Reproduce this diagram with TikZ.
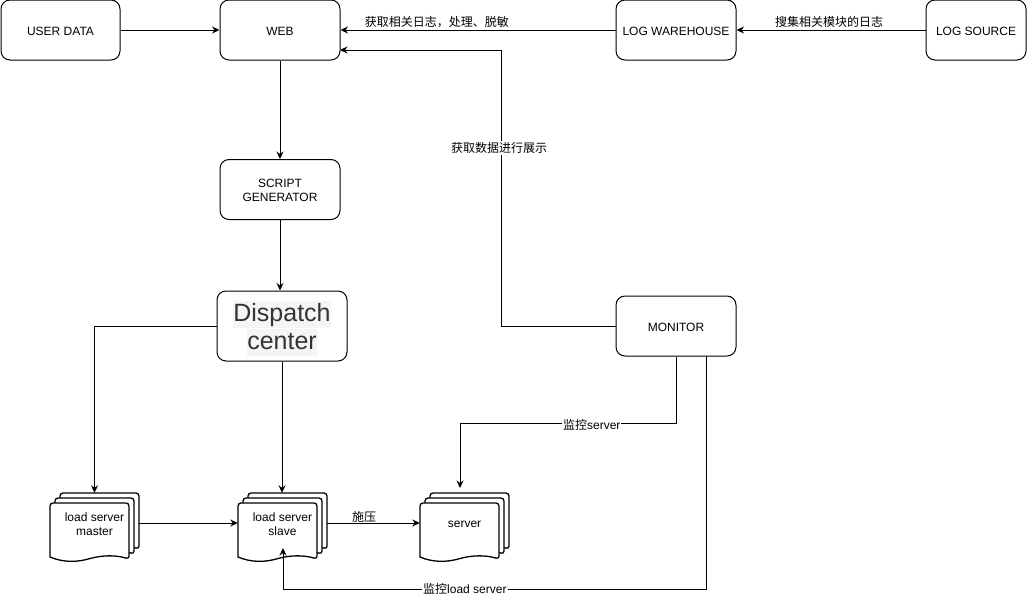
\documentclass[tikz,border=0pt]{standalone}
\usepackage{fontspec}
\setmainfont{Liberation Sans}
\newfontfamily\cjk{Noto Sans CJK SC}
\usetikzlibrary{arrows.meta}
\definecolor{dispatchbg}{HTML}{F5F5F5}
\definecolor{dispatchfg}{HTML}{333333}
\tikzset{
  box/.style={draw,rounded corners=9pt,line width=1pt,align=center,font=\fontsize{12}{14}\selectfont},
  doclabel/.style={align=center,minimum width=89pt,minimum height=60pt,inner sep=0pt,font=\fontsize{12}{14}\selectfont},
  conn/.style={-{Stealth[length=7.5pt,width=7pt]},line width=1pt},
  edgelabel/.style={fill=white,inner sep=1pt,font=\fontsize{12}{14}\selectfont},
  toplabel/.style={above=1pt,inner sep=1pt,font=\fontsize{12}{14}\cjk},
}
% text a little lower than the middle of its box
\newcommand{\lowtext}[2][1pt]{\raisebox{-#1}[\height][\depth]{#2}}
\newcommand{\dispatchline}[1]{\setlength{\fboxsep}{0pt}\lowtext[2.5pt]{\colorbox{dispatchbg}{\rule[-7pt]{0pt}{27.9pt}#1}}}
% one stack of three pages, top left corner at (#2,#3)
\newcommand{\docstack}[4]{
  \foreach \d in {10,5,0}{
    \draw[line width=1.3pt,fill=white,rounded corners=3pt,shift={(#2+\d,#3-\d+10)}]
      (0,54) -- (0,0) -- (79,0) -- (79,56) [sharp corners]
      .. controls (66,52) and (53,52) .. (40,55.5)
      .. controls (27,59.5) and (13,59.5) .. (0,54) -- cycle;
  }
  \node[doclabel] (#1) at (#2+44.5,#3+30) {#4};
}
\begin{document}
\begin{tikzpicture}[x=1pt,y=-1pt]
\useasboundingbox (0,0) rectangle (1027,598);

\node[box,minimum width=119pt,minimum height=60pt] (userdata) at (60.5,30) {\lowtext{USER DATA}};
\node[box,minimum width=120pt,minimum height=60pt] (web) at (280,30) {\lowtext{WEB}};
\node[box,minimum width=120pt,minimum height=60pt] (warehouse) at (676,30) {\lowtext{LOG WAREHOUSE}};
\node[box,minimum width=100pt,minimum height=60pt] (logsource) at (976,30) {\lowtext{LOG SOURCE}};
\node[box,minimum width=120pt,minimum height=60pt] (script) at (280,189.5) {\lowtext{SCRIPT}\\\lowtext{GENERATOR}};
\node[box,minimum width=130pt,minimum height=70pt,text=dispatchfg,font=\fontsize{25}{28}\selectfont] (dispatch) at (282,326)
  {\dispatchline{Dispatch}\\\dispatchline{center}};
\node[box,minimum width=120pt,minimum height=60pt] (monitor) at (676,326) {\lowtext{MONITOR}};

\docstack{master}{50}{493}{\lowtext[1.5pt]{load server}\\\lowtext[1.5pt]{master}}
\docstack{slave}{238}{493}{\lowtext[1.5pt]{load server}\\\lowtext[1.5pt]{slave}}
\docstack{server}{420}{493}{\lowtext[1.5pt]{server}}

\coordinate (webin) at (340,50);
\coordinate (servertop) at (460,488);
\coordinate (monitorout) at (706,356);
\coordinate (slavebottom) at (283,548);

\draw[conn] (userdata) -- (web);
\draw[conn] (web) -- (script);
\draw[conn] (script.south) -- (script.south |- dispatch.north);
\draw[conn] (dispatch.west) -| (master.north);
\draw[conn] (dispatch.south) -- (dispatch.south |- slave.north);
\draw[conn] (master.east) -- (slave.west);
\draw[conn] (slave.east) -- (server.west) node[pos=.4,toplabel,above=-2pt] {施压};
\draw[conn] (warehouse.west) -- (web.east) node[pos=.65,toplabel] {获取相关日志，处理、脱敏};
\draw[conn] (logsource.west) -- (warehouse.east) node[pos=.51,toplabel] {搜集相关模块的日志};
\draw[conn] (monitor.west) -- (501,326) -- (501,50) node[pos=.645,edgelabel,xshift=-2pt] {\cjk 获取数据进行展示} -- (webin);
\draw[conn] (monitor.south) -- (676,423) -- (460,423) node[pos=.39,edgelabel,yshift=-2pt] {{\cjk 监控}server} -- (servertop);
\draw[conn] (monitorout) -- (706,589) -- (283,589) node[pos=.57,edgelabel] {{\cjk 监控}load server} -- (slavebottom);
\end{tikzpicture}
\end{document}
